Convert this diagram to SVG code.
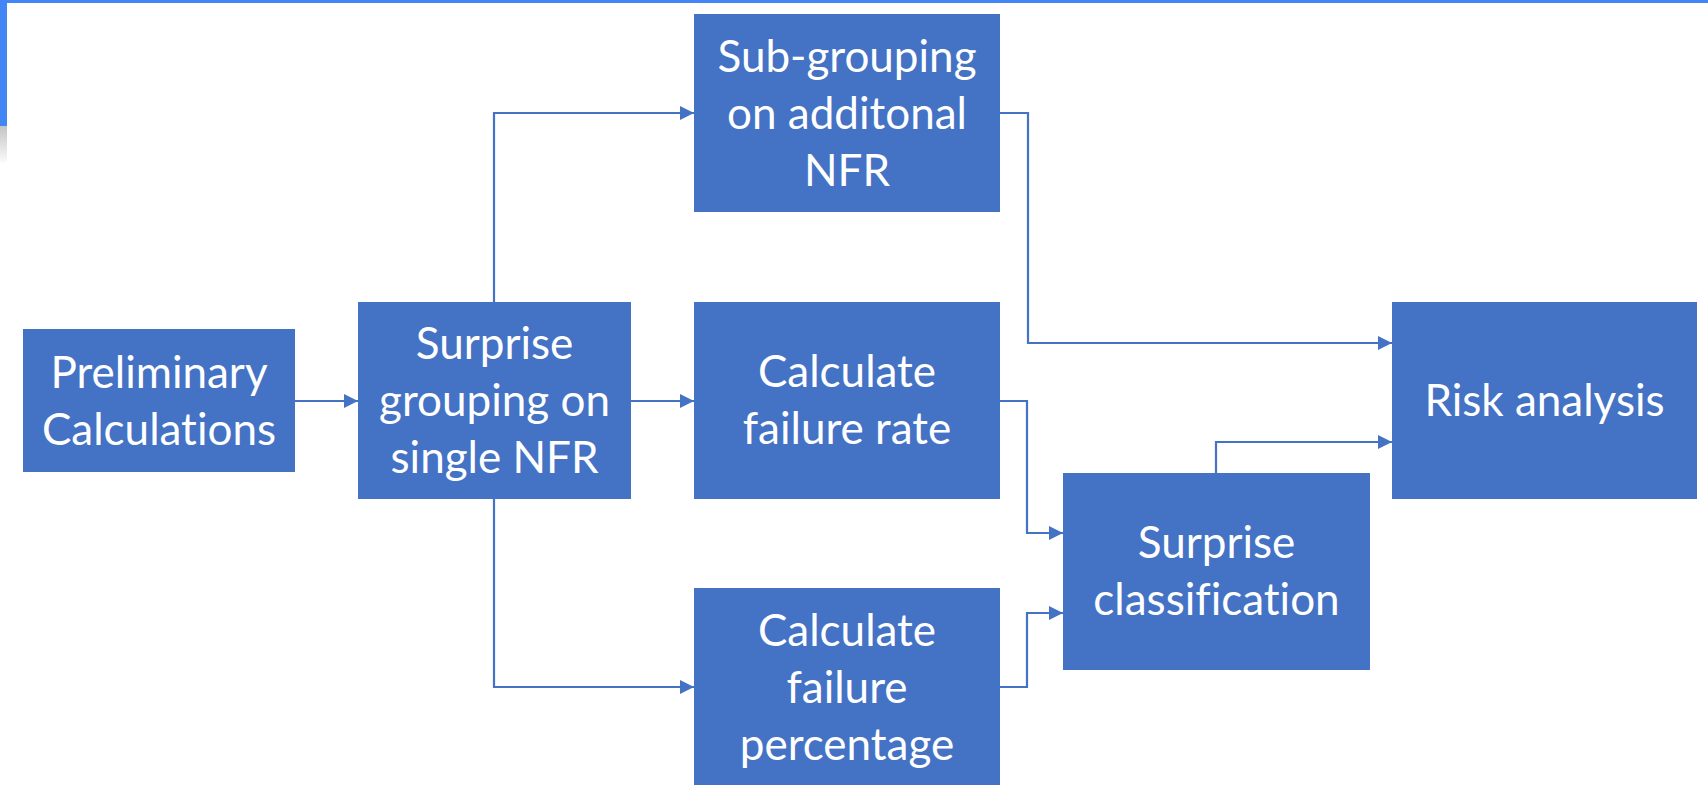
<svg xmlns="http://www.w3.org/2000/svg" width="1708" height="803" viewBox="0 0 1708 803">
<style>
.box{fill:#4472C4;}
.lbl{fill:#ffffff;font-family:Lato,"Open Sans","Liberation Sans",sans-serif;font-size:44px;text-anchor:middle;font-variant-ligatures:none;font-feature-settings:"liga" 0,"clig" 0;}
.con{fill:none;stroke:#4472C4;stroke-width:2.2;marker-end:url(#ah);}
</style>
<defs>
<marker id="ah" markerUnits="userSpaceOnUse" markerWidth="15" markerHeight="15" refX="14" refY="7" orient="auto">
<path d="M0,0 L14,7 L0,14 Z" fill="#4472C4"/>
</marker>
<linearGradient id="sh" x1="0" y1="0" x2="0" y2="1">
<stop offset="0" stop-color="#c4c4c4"/>
<stop offset="1" stop-color="#fafafa"/>
</linearGradient>
</defs>
<rect x="0" y="0" width="1708" height="803" fill="#ffffff"/>
<g id="frame">
<rect x="0" y="0" width="1708" height="3" fill="#4285F4"/>
<rect x="0" y="0" width="7" height="126" fill="#4285F4"/>
<rect x="0" y="126" width="7" height="36" fill="url(#sh)"/>
</g>
<g id="connectors">
<path class="con" d="M295,401 H358"/>
<path class="con" d="M494,302 V113 H694"/>
<path class="con" d="M631,401 H694"/>
<path class="con" d="M494,499 V687 H694"/>
<path class="con" d="M1000,113 H1028 V343 H1392"/>
<path class="con" d="M1000,401 H1027 V533 H1063"/>
<path class="con" d="M1000,687 H1027 V613 H1063"/>
<path class="con" d="M1216,473 V442 H1392"/>
</g>
<g id="prelim">
<rect class="box" x="23" y="329" width="272" height="143"/>
<text class="lbl" x="159" y="388">Preliminary</text>
<text class="lbl" x="159" y="445">Calculations</text>
</g>
<g id="surprise-grouping">
<rect class="box" x="358" y="302" width="273" height="197"/>
<text class="lbl" x="494.5" y="359">Surprise</text>
<text class="lbl" x="494.5" y="416">grouping on</text>
<text class="lbl" x="494.5" y="473">single NFR</text>
</g>
<g id="sub-grouping">
<rect class="box" x="694" y="14" width="306" height="198"/>
<text class="lbl" x="847" y="72">Sub-grouping</text>
<text class="lbl" x="847" y="129">on additonal</text>
<text class="lbl" x="847" y="186">NFR</text>
</g>
<g id="failure-rate">
<rect class="box" x="694" y="302" width="306" height="197"/>
<text class="lbl" x="847" y="387">Calculate</text>
<text class="lbl" x="847" y="444">failure rate</text>
</g>
<g id="failure-percentage">
<rect class="box" x="694" y="588" width="306" height="197"/>
<text class="lbl" x="847" y="646">Calculate</text>
<text class="lbl" x="847" y="703">failure</text>
<text class="lbl" x="847" y="760">percentage</text>
</g>
<g id="surprise-classification">
<rect class="box" x="1063" y="473" width="307" height="197"/>
<text class="lbl" x="1216.5" y="558">Surprise</text>
<text class="lbl" x="1216.5" y="615">classification</text>
</g>
<g id="risk-analysis">
<rect class="box" x="1392" y="302" width="305" height="197"/>
<text class="lbl" x="1544.5" y="416">Risk analysis</text>
</g>
</svg>
